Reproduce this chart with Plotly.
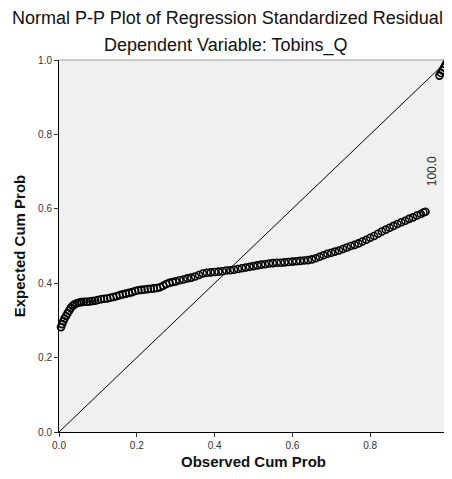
import plotly.graph_objects as go

observed = [0.005, 0.008, 0.011, 0.014, 0.018, 0.022, 0.026, 0.030, 0.035, 0.040,
            0.046, 0.052, 0.058, 0.065, 0.072, 0.079, 0.086, 0.093, 0.100, 0.108,
            0.116, 0.124, 0.132, 0.140, 0.148, 0.156, 0.164, 0.172, 0.180, 0.188,
            0.196, 0.204, 0.212, 0.220, 0.228, 0.236, 0.244, 0.252, 0.260, 0.268,
            0.276, 0.284, 0.292, 0.300, 0.310, 0.320, 0.330, 0.340, 0.350, 0.360,
            0.370, 0.380, 0.390, 0.400, 0.410, 0.420, 0.430, 0.440, 0.450, 0.460,
            0.470, 0.480, 0.490, 0.500, 0.510, 0.520, 0.530, 0.540, 0.550, 0.560,
            0.570, 0.580, 0.590, 0.600, 0.610, 0.620, 0.630, 0.640, 0.650, 0.660,
            0.670, 0.680, 0.690, 0.700, 0.710, 0.720, 0.730, 0.740, 0.750, 0.760,
            0.770, 0.780, 0.790, 0.800, 0.810, 0.820, 0.830, 0.840, 0.850, 0.860,
            0.870, 0.880, 0.890, 0.900, 0.910, 0.920, 0.930, 0.937, 0.942,
            0.978, 0.982, 0.986, 0.990, 0.994, 0.997, 1.000]
expected = [0.282, 0.290, 0.298, 0.305, 0.312, 0.319, 0.326, 0.333, 0.339, 0.343,
            0.346, 0.348, 0.349, 0.350, 0.350, 0.351, 0.352, 0.353, 0.355, 0.357,
            0.358, 0.359, 0.361, 0.363, 0.365, 0.368, 0.370, 0.372, 0.374, 0.376,
            0.379, 0.381, 0.382, 0.383, 0.384, 0.385, 0.386, 0.387, 0.389, 0.393,
            0.398, 0.401, 0.403, 0.405, 0.408, 0.410, 0.413, 0.415, 0.418, 0.422,
            0.426, 0.428, 0.429, 0.430, 0.431, 0.432, 0.434, 0.435, 0.436, 0.438,
            0.440, 0.442, 0.444, 0.446, 0.448, 0.450, 0.451, 0.453, 0.454, 0.455,
            0.455, 0.456, 0.457, 0.458, 0.459, 0.460, 0.461, 0.462, 0.464, 0.467,
            0.471, 0.475, 0.479, 0.482, 0.485, 0.488, 0.492, 0.496, 0.500, 0.503,
            0.507, 0.512, 0.517, 0.522, 0.527, 0.533, 0.539, 0.544, 0.549, 0.554,
            0.559, 0.564, 0.568, 0.573, 0.577, 0.582, 0.586, 0.590, 0.592,
            0.958, 0.965, 0.972, 0.980, 0.988, 0.994, 0.999]

diag = [0.0, 1.0]
tick_vals = [0.0, 0.2, 0.4, 0.6, 0.8, 1.0]
tick_text = ["0.0", "0.2", "0.4", "0.6", "0.8", "1.0"]
label_text = "100.0"
label_pos = (0.958, 0.70)

font_family = "Liberation Sans, Arial, sans-serif"

fig = go.Figure()
fig.add_trace(go.Scatter(x=diag, y=diag, mode="lines",
                         line=dict(color="black", width=1), hoverinfo="skip"))
fig.add_trace(go.Scatter(x=observed, y=expected, mode="markers",
                         marker=dict(symbol="circle-open", size=7, color="black",
                                     line=dict(width=1.6, color="black")),
                         cliponaxis=False))

fig.add_annotation(x=label_pos[0], y=label_pos[1], xref="x", yref="y",
                   text=label_text, showarrow=False, textangle=-90,
                   font=dict(family=font_family, size=12, color="#222"))

fig.add_annotation(x=0.43, y=1, xref="paper", yref="paper", yanchor="middle",
                   xanchor="center", yshift=42, xshift=1,
                   text="Normal P-P Plot of Regression Standardized Residual",
                   showarrow=False, font=dict(family=font_family, size=18, color="#111"))
fig.add_annotation(x=0.43, y=1, xref="paper", yref="paper", yanchor="middle",
                   xanchor="center", yshift=15,
                   text="Dependent Variable: Tobins_Q",
                   showarrow=False, font=dict(family=font_family, size=18, color="#111"))

fig.update_layout(
    width=444, height=471,
    margin=dict(l=51, r=4, t=52, b=47),
    paper_bgcolor="white",
    plot_bgcolor="#f0f0f0",
    showlegend=False,
    font=dict(family=font_family, color="#222"),
)
fig.update_xaxes(range=[0, 1], tickvals=tick_vals, ticktext=tick_text,
                 ticks="outside", ticklen=4, tickcolor="#333", automargin=False,
                 showgrid=False, zeroline=False,
                 showline=True, linecolor="black", linewidth=1, mirror=False,
                 tickfont=dict(size=10, color="#333"),
                 title=dict(text="<b>Observed Cum Prob</b>", standoff=6,
                            font=dict(size=15, color="#111")))
fig.update_yaxes(range=[0, 1], tickvals=tick_vals, ticktext=tick_text,
                 ticks="outside", ticklen=4, tickcolor="#333", automargin=False,
                 showgrid=False, zeroline=False,
                 showline=True, linecolor="black", linewidth=1,
                 tickfont=dict(size=10, color="#333"),
                 title=dict(text="<b>Expected Cum Prob</b>", standoff=8,
                            font=dict(size=15, color="#111")))
# top and right frame lines (gray)
fig.add_shape(type="line", xref="paper", yref="paper", x0=0, x1=1, y0=1, y1=1,
              line=dict(color="#999", width=1))
fig.add_shape(type="line", xref="paper", yref="paper", x0=1, x1=1, y0=0, y1=1,
              line=dict(color="#999", width=1))

fig.write_html("out.html")
